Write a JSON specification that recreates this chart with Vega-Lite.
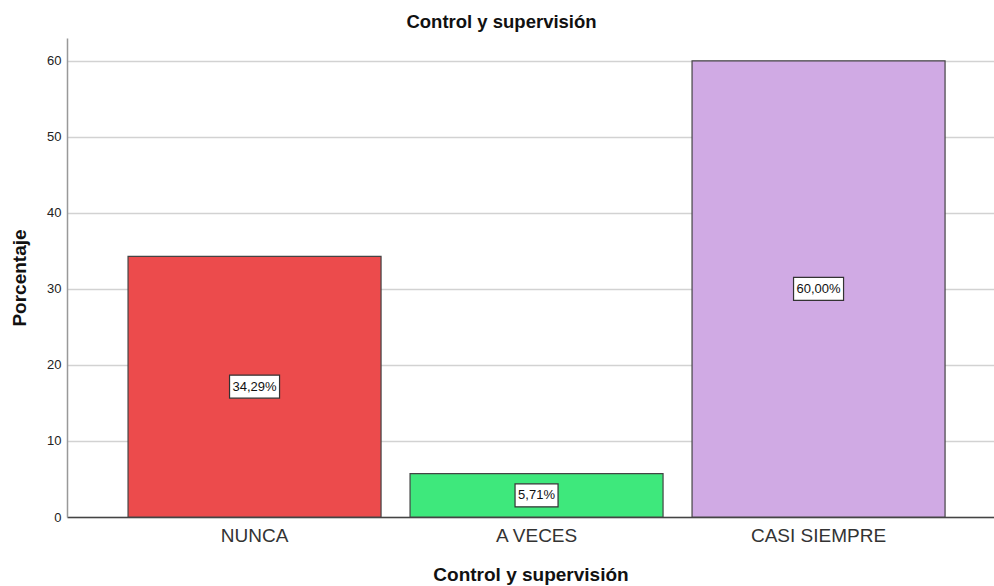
{
  "$schema": "https://vega.github.io/schema/vega-lite/v6.json",
  "width": 927,
  "height": 479,
  "autosize": "none",
  "padding": {"left": 67, "top": 38, "right": 0, "bottom": 69},
  "background": "white",
  "title": {
    "text": "Control y supervisión",
    "font": "Liberation Sans",
    "fontSize": 18.5,
    "fontWeight": "bold",
    "color": "#111111",
    "dx": -29,
    "offset": 7
  },
  "config": {
    "view": {"stroke": null},
    "font": "Liberation Sans"
  },
  "data": {
    "values": [
      {"cat": "NUNCA", "pct": 34.29, "label": "34,29%"},
      {"cat": "A VECES", "pct": 5.71, "label": "5,71%"},
      {"cat": "CASI SIEMPRE", "pct": 60.0, "label": "60,00%"}
    ]
  },
  "transform": [{"calculate": "datum.pct / 2", "as": "mid"}],
  "encoding": {
    "x": {
      "field": "cat",
      "type": "nominal",
      "sort": null,
      "scale": {"paddingInner": 0.1028, "paddingOuter": 0.195, "align": 0.555},
      "axis": {
        "title": "Control y supervisión",
        "titleFont": "Liberation Sans",
        "titleFontSize": 19,
        "titleFontWeight": "bold",
        "titleColor": "#111111",
        "titlePadding": 20,
        "labelAngle": 0,
        "labelFont": "Liberation Sans",
        "labelFontSize": 19,
        "labelColor": "#333333",
        "labelPadding": 9,
        "ticks": false,
        "domainColor": "#444444",
        "domainWidth": 1.5,
        "grid": false
      }
    }
  },
  "layer": [
    {
      "mark": {"type": "bar", "color": "#ffffff"},
      "encoding": {
        "y": {
          "field": "pct",
          "type": "quantitative",
          "scale": {"domain": [0, 63], "nice": false},
          "axis": {
            "title": "Porcentaje",
            "titleFont": "Liberation Sans",
            "titleFontSize": 19,
            "titleFontWeight": "bold",
            "titleColor": "#111111",
            "titlePadding": 17,
            "values": [0, 10, 20, 30, 40, 50, 60],
            "labelFont": "Liberation Sans",
            "labelFontSize": 13,
            "labelColor": "#222222",
            "labelPadding": 6,
            "ticks": false,
            "domainColor": "#999999",
            "domainWidth": 1.5,
            "gridColor": "#d2d2d2",
            "gridWidth": 1.5
          }
        },
        "opacity": {"value": 0}
      }
    },
    {
      "mark": {"type": "bar", "stroke": "#444444", "strokeWidth": 1.2},
      "encoding": {
        "y": {"field": "pct", "type": "quantitative"},
        "color": {
          "field": "cat",
          "type": "nominal",
          "sort": null,
          "scale": {
            "domain": ["NUNCA", "A VECES", "CASI SIEMPRE"],
            "range": ["#ec4b4c", "#3ee87c", "#d0aae4"]
          },
          "legend": null
        }
      }
    },
    {
      "mark": {"type": "point", "filled": true, "fill": "white", "stroke": "#333333", "strokeWidth": 1.2, "opacity": 1, "size": 2500},
      "encoding": {
        "y": {"field": "mid", "type": "quantitative"},
        "shape": {
          "condition": {"test": "length(datum.label) < 6", "value": "M-0.86,-0.46H0.86V0.46H-0.86Z"},
          "value": "M-1,-0.46H1V0.46H-1Z"
        }
      }
    },
    {
      "mark": {"type": "text", "font": "Liberation Sans", "fontSize": 13, "color": "#111111", "baseline": "middle", "align": "center"},
      "encoding": {
        "y": {"field": "mid", "type": "quantitative"},
        "text": {"field": "label"}
      }
    }
  ]
}
